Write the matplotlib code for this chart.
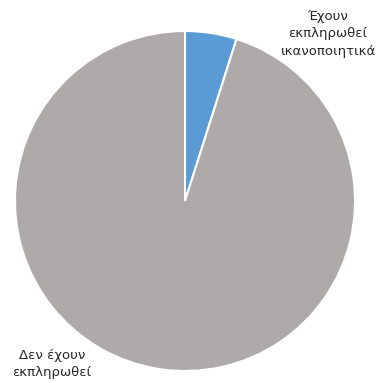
import matplotlib.pyplot as plt

labels = ["Έχουν\nεκπληρωθεί\nικανοποιητικά", "Δεν έχουν\nεκπληρωθεί"]
values = [4.9, 95.1]
colors = ["#5B9BD5", "#AEAAAA"]

fig = plt.figure(figsize=(3.78, 3.83), dpi=100)
ax = fig.add_axes([15 / 378, 12 / 383, 340 / 378, 340 / 383])

ax.pie(values, colors=colors, startangle=90, counterclock=False,
       wedgeprops=dict(edgecolor="white", linewidth=1.5))
ax.set_xlim(-1, 1)
ax.set_ylim(-1, 1)
ax.set_aspect("equal")
ax.axis("off")

# label positions in figure pixels
fig.text(328 / 378, 1 - 34 / 383, labels[0], ha="center", va="center",
         fontsize=9.5, color="#262626", linespacing=1.45)
fig.text(52 / 378, 1 - 364 / 383, labels[1], ha="center", va="center",
         fontsize=9.5, color="#262626", linespacing=1.45)

fig.savefig("out.png", dpi=100, facecolor="white")
